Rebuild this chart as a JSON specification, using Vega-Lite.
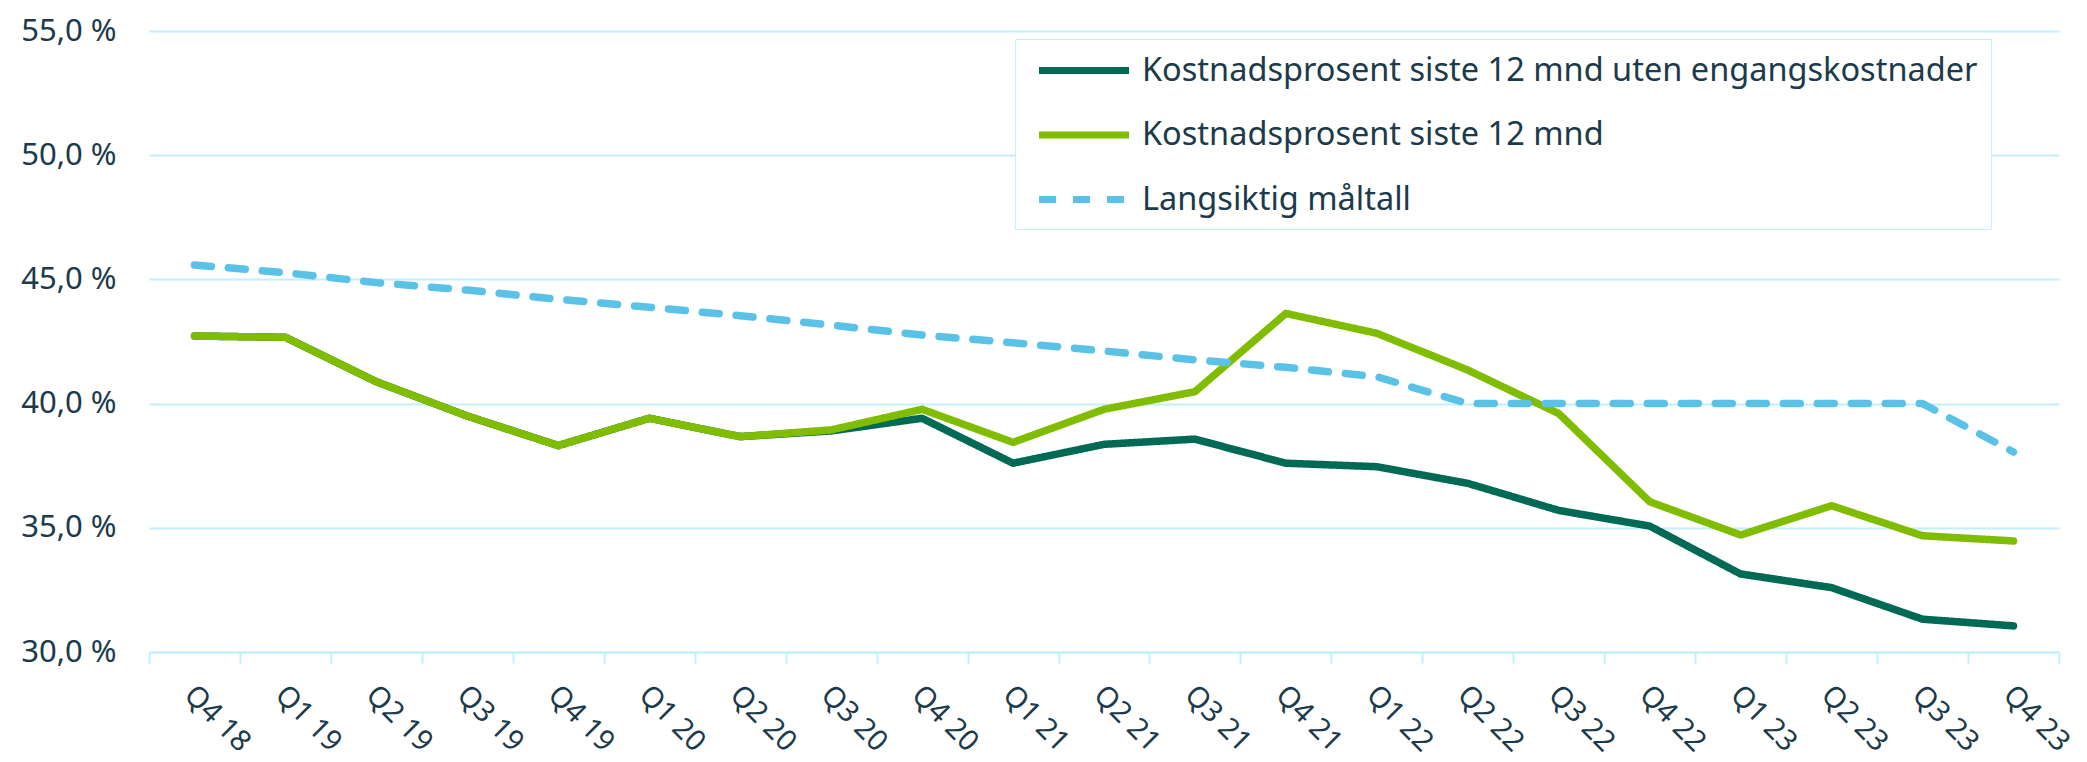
{
  "$schema": "https://vega.github.io/schema/vega-lite/v6.json",
  "width": 1910,
  "height": 621,
  "autosize": {"type": "none"},
  "padding": {"left": 149, "top": 31, "right": 28, "bottom": 110},
  "background": "white",
  "config": {"view": {"stroke": null}, "font": "Noto Sans"},
  "data": {
    "values": [
      {"kvartal": "Q4 18", "serie": "Kostnadsprosent siste 12 mnd uten engangskostnader", "verdi": 42.72},
      {"kvartal": "Q1 19", "serie": "Kostnadsprosent siste 12 mnd uten engangskostnader", "verdi": 42.67},
      {"kvartal": "Q2 19", "serie": "Kostnadsprosent siste 12 mnd uten engangskostnader", "verdi": 40.88},
      {"kvartal": "Q3 19", "serie": "Kostnadsprosent siste 12 mnd uten engangskostnader", "verdi": 39.5},
      {"kvartal": "Q4 19", "serie": "Kostnadsprosent siste 12 mnd uten engangskostnader", "verdi": 38.31},
      {"kvartal": "Q1 20", "serie": "Kostnadsprosent siste 12 mnd uten engangskostnader", "verdi": 39.41},
      {"kvartal": "Q2 20", "serie": "Kostnadsprosent siste 12 mnd uten engangskostnader", "verdi": 38.67},
      {"kvartal": "Q3 20", "serie": "Kostnadsprosent siste 12 mnd uten engangskostnader", "verdi": 38.9},
      {"kvartal": "Q4 20", "serie": "Kostnadsprosent siste 12 mnd uten engangskostnader", "verdi": 39.41},
      {"kvartal": "Q1 21", "serie": "Kostnadsprosent siste 12 mnd uten engangskostnader", "verdi": 37.6},
      {"kvartal": "Q2 21", "serie": "Kostnadsprosent siste 12 mnd uten engangskostnader", "verdi": 38.36},
      {"kvartal": "Q3 21", "serie": "Kostnadsprosent siste 12 mnd uten engangskostnader", "verdi": 38.57},
      {"kvartal": "Q4 21", "serie": "Kostnadsprosent siste 12 mnd uten engangskostnader", "verdi": 37.6},
      {"kvartal": "Q1 22", "serie": "Kostnadsprosent siste 12 mnd uten engangskostnader", "verdi": 37.46},
      {"kvartal": "Q2 22", "serie": "Kostnadsprosent siste 12 mnd uten engangskostnader", "verdi": 36.79},
      {"kvartal": "Q3 22", "serie": "Kostnadsprosent siste 12 mnd uten engangskostnader", "verdi": 35.7},
      {"kvartal": "Q4 22", "serie": "Kostnadsprosent siste 12 mnd uten engangskostnader", "verdi": 35.07},
      {"kvartal": "Q1 23", "serie": "Kostnadsprosent siste 12 mnd uten engangskostnader", "verdi": 33.14},
      {"kvartal": "Q2 23", "serie": "Kostnadsprosent siste 12 mnd uten engangskostnader", "verdi": 32.59},
      {"kvartal": "Q3 23", "serie": "Kostnadsprosent siste 12 mnd uten engangskostnader", "verdi": 31.32},
      {"kvartal": "Q4 23", "serie": "Kostnadsprosent siste 12 mnd uten engangskostnader", "verdi": 31.05},
      {"kvartal": "Q4 18", "serie": "Kostnadsprosent siste 12 mnd", "verdi": 42.72},
      {"kvartal": "Q1 19", "serie": "Kostnadsprosent siste 12 mnd", "verdi": 42.67},
      {"kvartal": "Q2 19", "serie": "Kostnadsprosent siste 12 mnd", "verdi": 40.88},
      {"kvartal": "Q3 19", "serie": "Kostnadsprosent siste 12 mnd", "verdi": 39.5},
      {"kvartal": "Q4 19", "serie": "Kostnadsprosent siste 12 mnd", "verdi": 38.31},
      {"kvartal": "Q1 20", "serie": "Kostnadsprosent siste 12 mnd", "verdi": 39.41},
      {"kvartal": "Q2 20", "serie": "Kostnadsprosent siste 12 mnd", "verdi": 38.67},
      {"kvartal": "Q3 20", "serie": "Kostnadsprosent siste 12 mnd", "verdi": 38.94},
      {"kvartal": "Q4 20", "serie": "Kostnadsprosent siste 12 mnd", "verdi": 39.77},
      {"kvartal": "Q1 21", "serie": "Kostnadsprosent siste 12 mnd", "verdi": 38.44},
      {"kvartal": "Q2 21", "serie": "Kostnadsprosent siste 12 mnd", "verdi": 39.77},
      {"kvartal": "Q3 21", "serie": "Kostnadsprosent siste 12 mnd", "verdi": 40.48},
      {"kvartal": "Q4 21", "serie": "Kostnadsprosent siste 12 mnd", "verdi": 43.63},
      {"kvartal": "Q1 22", "serie": "Kostnadsprosent siste 12 mnd", "verdi": 42.83},
      {"kvartal": "Q2 22", "serie": "Kostnadsprosent siste 12 mnd", "verdi": 41.35},
      {"kvartal": "Q3 22", "serie": "Kostnadsprosent siste 12 mnd", "verdi": 39.6},
      {"kvartal": "Q4 22", "serie": "Kostnadsprosent siste 12 mnd", "verdi": 36.05},
      {"kvartal": "Q1 23", "serie": "Kostnadsprosent siste 12 mnd", "verdi": 34.71},
      {"kvartal": "Q2 23", "serie": "Kostnadsprosent siste 12 mnd", "verdi": 35.89},
      {"kvartal": "Q3 23", "serie": "Kostnadsprosent siste 12 mnd", "verdi": 34.68},
      {"kvartal": "Q4 23", "serie": "Kostnadsprosent siste 12 mnd", "verdi": 34.47},
      {"kvartal": "Q4 18", "serie": "Langsiktig måltall", "verdi": 45.58},
      {"kvartal": "Q1 19", "serie": "Langsiktig måltall", "verdi": 45.27},
      {"kvartal": "Q2 19", "serie": "Langsiktig måltall", "verdi": 44.87},
      {"kvartal": "Q3 19", "serie": "Langsiktig måltall", "verdi": 44.57},
      {"kvartal": "Q4 19", "serie": "Langsiktig måltall", "verdi": 44.2},
      {"kvartal": "Q1 20", "serie": "Langsiktig måltall", "verdi": 43.88},
      {"kvartal": "Q2 20", "serie": "Langsiktig måltall", "verdi": 43.54},
      {"kvartal": "Q3 20", "serie": "Langsiktig måltall", "verdi": 43.16},
      {"kvartal": "Q4 20", "serie": "Langsiktig måltall", "verdi": 42.76},
      {"kvartal": "Q1 21", "serie": "Langsiktig måltall", "verdi": 42.45},
      {"kvartal": "Q2 21", "serie": "Langsiktig måltall", "verdi": 42.12},
      {"kvartal": "Q3 21", "serie": "Langsiktig måltall", "verdi": 41.76},
      {"kvartal": "Q4 21", "serie": "Langsiktig måltall", "verdi": 41.46},
      {"kvartal": "Q1 22", "serie": "Langsiktig måltall", "verdi": 41.08},
      {"kvartal": "Q2 22", "serie": "Langsiktig måltall", "verdi": 40.0},
      {"kvartal": "Q3 22", "serie": "Langsiktig måltall", "verdi": 40.0},
      {"kvartal": "Q4 22", "serie": "Langsiktig måltall", "verdi": 40.0},
      {"kvartal": "Q1 23", "serie": "Langsiktig måltall", "verdi": 40.0},
      {"kvartal": "Q2 23", "serie": "Langsiktig måltall", "verdi": 40.0},
      {"kvartal": "Q3 23", "serie": "Langsiktig måltall", "verdi": 40.0},
      {"kvartal": "Q4 23", "serie": "Langsiktig måltall", "verdi": 38.05}
    ]
  },
  "mark": {"type": "line", "strokeWidth": 7.5, "strokeCap": "round", "strokeJoin": "round"},
  "encoding": {
    "x": {
      "field": "kvartal",
      "type": "ordinal",
      "sort": ["Q4 18", "Q1 19", "Q2 19", "Q3 19", "Q4 19", "Q1 20", "Q2 20", "Q3 20", "Q4 20", "Q1 21", "Q2 21", "Q3 21", "Q4 21", "Q1 22", "Q2 22", "Q3 22", "Q4 22", "Q1 23", "Q2 23", "Q3 23", "Q4 23"],
      "scale": {"type": "band", "paddingInner": 0, "paddingOuter": 0},
      "axis": {
        "title": null,
        "grid": false,
        "domain": true,
        "domainColor": "#c3efff",
        "domainWidth": 2,
        "ticks": true,
        "tickBand": "extent",
        "tickColor": "#c3efff",
        "tickWidth": 2,
        "tickSize": 11,
        "labelAngle": 45,
        "labelAlign": "left",
        "labelBaseline": "top",
        "labelPadding": 17,
        "labelOffset": 4,
        "labelFont": "Noto Sans",
        "labelFontSize": 29,
        "labelColor": "#1b3a4b"
      }
    },
    "y": {
      "field": "verdi",
      "type": "quantitative",
      "scale": {"domain": [30, 55], "nice": false, "zero": false},
      "axis": {
        "title": null,
        "values": [30, 35, 40, 45, 50, 55],
        "grid": true,
        "gridColor": "#c3efff",
        "gridWidth": 2,
        "domain": false,
        "ticks": false,
        "labelPadding": 33,
        "labelFont": "Noto Sans",
        "labelFontSize": 31,
        "labelColor": "#1b3a4b",
        "labelExpr": "replace(format(datum.value, '.1f'), '.', ',') + ' %'"
      }
    },
    "color": {
      "field": "serie",
      "type": "nominal",
      "scale": {
        "domain": ["Kostnadsprosent siste 12 mnd uten engangskostnader", "Kostnadsprosent siste 12 mnd", "Langsiktig måltall"],
        "range": ["#006a55", "#80bc00", "#5bc2e7"]
      },
      "legend": {
        "title": null,
        "orient": "none",
        "legendX": 866,
        "legendY": 8,
        "strokeColor": "#c3efff",
        "fillColor": "white",
        "padding": 13,
        "symbolType": "M-0.5,0H5.5",
        "symbolSize": 900,
        "symbolStrokeWidth": 7,
        "labelFont": "Noto Sans",
        "labelFontSize": 32.5,
        "labelColor": "#1b3a4b",
        "labelOffset": 77,
        "labelLimit": 1200,
        "rowPadding": 29.5
      }
    },
    "strokeDash": {
      "field": "serie",
      "type": "nominal",
      "scale": {
        "domain": ["Kostnadsprosent siste 12 mnd uten engangskostnader", "Kostnadsprosent siste 12 mnd", "Langsiktig måltall"],
        "range": [[1, 0], [1, 0], [17, 17]]
      },
      "legend": {
        "title": null,
        "orient": "none",
        "legendX": 866,
        "legendY": 8,
        "strokeColor": "#c3efff",
        "fillColor": "white",
        "padding": 13,
        "symbolType": "M-0.5,0H5.5",
        "symbolSize": 900,
        "symbolStrokeWidth": 7,
        "labelFont": "Noto Sans",
        "labelFontSize": 32.5,
        "labelColor": "#1b3a4b",
        "labelOffset": 77,
        "labelLimit": 1200,
        "rowPadding": 29.5
      }
    }
  }
}
